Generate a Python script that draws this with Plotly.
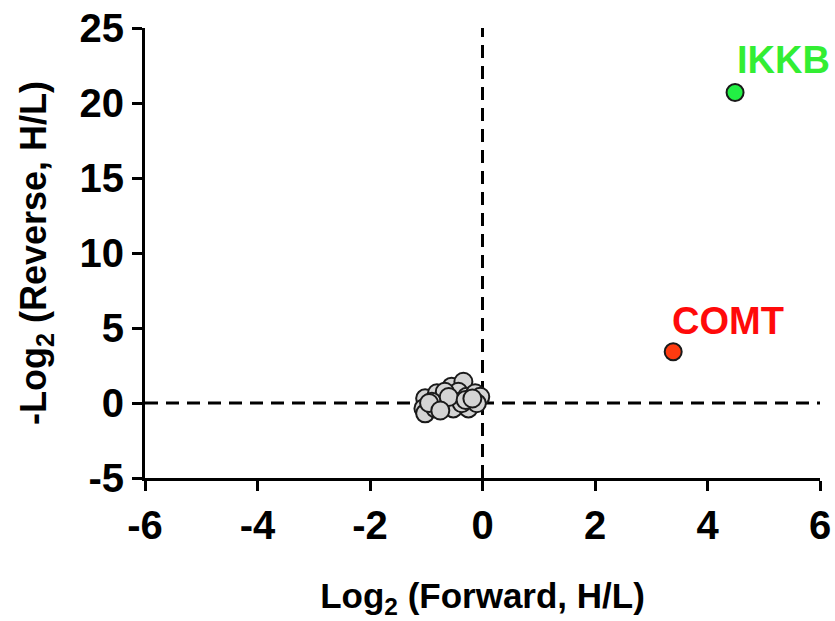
import plotly.graph_objects as go

# Cluster of unchanged proteins (log2 forward, -log2 reverse)
cluster_x = [-1.02, -1.05, -1.02, -0.81, -0.70, -0.84, -0.55, -0.34, -0.43, -0.49,
             -0.52, -0.28, -0.13, -0.04, -0.25, -0.37, -0.67, -0.90, -0.10, -0.60,
             -0.95, -0.75, -0.30, -0.18]
cluster_y = [0.31, -0.36, -0.69, 0.65, -0.02, -0.36, 1.09, 1.42, 0.75, 0.09,
             -0.36, 0.42, 0.65, 0.42, -0.36, -0.02, 0.75, 0.09, -0.02, 0.40,
             0.00, -0.50, 0.20, 0.30]

hit_names = ["COMT", "IKKB"]
hit_x = [3.39, 4.49]
hit_y = [3.42, 20.7]
hit_fill = ["#ff3b10", "#22f044"]
label_colors = ["#ff0a0a", "#33ee33"]

x_ticks = [-6, -4, -2, 0, 2, 4, 6]
y_ticks = [-5, 0, 5, 10, 15, 20, 25]

FONT = "Liberation Sans, Arial, sans-serif"

fig = go.Figure()

# dashed zero lines
fig.add_trace(go.Scatter(x=[0, 0], y=[-5, 25], mode="lines",
                         line=dict(color="black", width=3, dash="13px,8px"),
                         hoverinfo="skip", showlegend=False))
fig.add_trace(go.Scatter(x=[-6, 6], y=[0, 0], mode="lines",
                         line=dict(color="black", width=3, dash="13px,8px"),
                         hoverinfo="skip", showlegend=False))

fig.add_trace(go.Scatter(x=cluster_x, y=cluster_y, mode="markers",
                         marker=dict(size=18, color="#d4d4d4",
                                     line=dict(color="#1a1a1a", width=2)),
                         showlegend=False))
fig.add_trace(go.Scatter(x=hit_x, y=hit_y, mode="markers",
                         marker=dict(size=17, color=hit_fill,
                                     line=dict(color="#1a1a1a", width=2)),
                         showlegend=False, cliponaxis=False))

label_offsets_x = [-0.06, 0.0]
label_offsets_y = [2.05, 2.2]
for n, x, y, c, dx, dy in zip(hit_names, hit_x, hit_y, label_colors, label_offsets_x, label_offsets_y):
    fig.add_annotation(x=x + dx, y=y + dy, text=n, showarrow=False,
                       xanchor="left", yanchor="middle",
                       font=dict(family=FONT, size=38, color=c, weight="bold"))

axis_common = dict(showline=True, linecolor="black", linewidth=3,
                   ticks="outside", ticklen=10, tickwidth=3, tickcolor="black",
                   showgrid=False, zeroline=False, mirror=False, automargin=False,
                   tickfont=dict(family=FONT, size=40, color="black", weight="bold"))

fig.update_xaxes(range=[-6, 6], tickvals=x_ticks, ticktext=[str(v) for v in x_ticks],
                 title=dict(text="Log<sub>2</sub> (Forward, H/L)", standoff=38,
                            font=dict(family=FONT, size=35, color="black", weight="bold")),
                 **axis_common)
fig.update_yaxes(range=[-5, 25], tickvals=y_ticks, ticktext=[str(v) for v in y_ticks],
                 title=dict(text="-Log<sub>2</sub> (Reverse, H/L)", standoff=22,
                            font=dict(family=FONT, size=36, color="black", weight="bold")),
                 **axis_common)

fig.update_layout(width=835, height=621, plot_bgcolor="white", paper_bgcolor="white",
                  margin=dict(l=145, r=15, t=28, b=143), showlegend=False)

fig.write_html("out.html")
